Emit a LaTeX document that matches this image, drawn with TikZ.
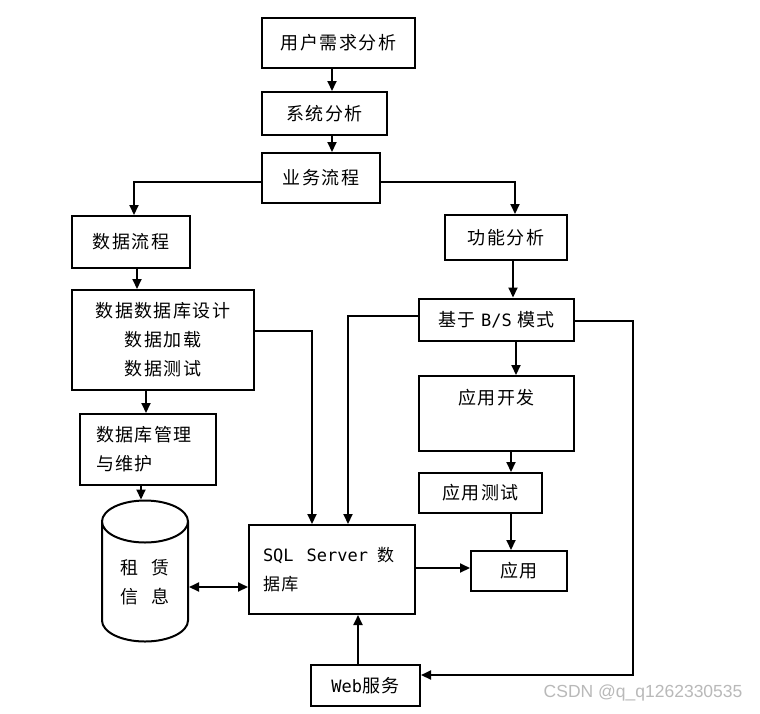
\documentclass[tikz,border=0pt]{standalone}
\usepackage{fontspec}
\setmainfont{Noto Sans CJK SC}[LetterSpace=8]
\setmonofont{DejaVu Sans Mono}
\newfontfamily\wmfont{Liberation Sans}
\usepackage{tikz}
\usetikzlibrary{arrows.meta,shapes.geometric}
\tikzset{>={Triangle[length=10pt,width=9pt]}}
\tikzset{
  box/.style={draw,line width=2pt,inner sep=0pt,align=center,
    font=\fontsize{18}{29}\selectfont},
  dbnode/.style={draw,line width=2pt,cylinder,shape border rotate=90,aspect=0.84,
    minimum width=86pt,minimum height=141pt,inner sep=0pt,align=center,
    font=\fontsize{18}{29}\selectfont},
  link/.style={line width=2pt,->}
}

\begin{document}
\begin{tikzpicture}[x=1pt,y=-1pt]
        \useasboundingbox[fill=white] (0,0) rectangle (760,713);

        \node[box,minimum width=153pt,minimum height=50pt] at (338.5,43)   (req) {用户需求分析};
        \node[box,minimum width=125pt,minimum height=43pt] at (324.5,113.5) (sys) {系统分析};
        \node[box,minimum width=118pt,minimum height=50pt] at (321,178)    (flow) {业务流程};

        \node[box,minimum width=118pt,minimum height=52pt] at (131,242)    (dataflow) {数据流程};
        \node[box,minimum width=182pt,minimum height=100pt] at (163,340)   (design) {数据数据库设计\\数据加载\\数据测试};
        \node[box,minimum width=136pt,minimum height=71pt,align=left,text width=104pt] at (148,449.5) (mgmt) {数据库管理\\与维护};
        \node[dbnode] at (145,582) (info) {租\hspace{14pt}赁\\信\hspace{14pt}息};

        \node[box,minimum width=166pt,minimum height=89pt,align=left,text width=138pt] at (332,569.5) (sql)
            {\ttfamily\fontsize{17}{29}\selectfont SQL\hspace{13pt}Server\hspace{9pt}\rmfamily 数\\据库};
        \node[box,minimum width=109pt,minimum height=41pt] at (365.5,685.5) (web) {{\ttfamily\fontsize{17}{29}\selectfont Web}服务};

        \node[box,minimum width=122pt,minimum height=45pt] at (506,237.5)  (func) {功能分析};
        \node[box,minimum width=155pt,minimum height=42pt] at (496.5,319.5) (bs) {基于 {\ttfamily\fontsize{17}{29}\selectfont B/S} 模式};
        \node[box,minimum width=155pt,minimum height=75pt,anchor=north,inner ysep=14pt,text height=14pt,text depth=33pt] at (496.5,375) (dev) {应用开发};
        \node[box,minimum width=123pt,minimum height=40pt] at (480.5,493)  (test) {应用测试};
        \node[box,minimum width=96pt,minimum height=40pt] at (519,571)     (app) {应用};

        \coordinate (bend) at (633,675);

        \draw[link] ([xshift=-6.5pt]req.south) -- ([xshift=-6.5pt]req.south |- sys.north);
        \draw[link] ([xshift=7.5pt]sys.south) -- ([xshift=7.5pt]sys.south |- flow.north);
        \draw[link] ([yshift=-4pt]flow.west) -| ([xshift=3pt]dataflow.north);
        \draw[link] ([yshift=-4pt]flow.east) -| ([xshift=9pt]func.north);

        \draw[link] ([xshift=6pt]dataflow.south) -- ([xshift=6pt]dataflow.south |- design.north);
        \draw[link] ([xshift=-2pt]mgmt.north |- design.south) -- ([xshift=-2pt]mgmt.north);
        \draw[link] ([xshift=-4pt]info.north |- mgmt.south) -- ([xshift=-4pt]info.north);
        \draw[link] ([yshift=9pt]design.east) -| ([xshift=-20pt]sql.north);
        \draw[line width=2pt,<->] ([yshift=-5pt]info.east) -- ([yshift=-5pt]info.east -| sql.west);

        \draw[link] ([xshift=7pt]func.south) -- ([xshift=7pt]func.south |- bs.north);
        \draw[link] ([yshift=4pt]bs.west) -| ([xshift=16pt]sql.north);
        \draw[link] ([yshift=-1.5pt]bs.east) -| (bend) |- ([yshift=10.5pt]web.east);
        \draw[link] ([xshift=19.5pt]bs.south) -- ([xshift=19.5pt]bs.south |- dev.north);
        \draw[link] ([xshift=14.5pt]dev.south) -- ([xshift=14.5pt]dev.south |- test.north);
        \draw[link] ([xshift=-8pt]app.north |- test.south) -- ([xshift=-8pt]app.north);
        \draw[link] ([yshift=1.5pt]sql.east) -- ([yshift=1.5pt]sql.east -| app.west);
        \draw[link] ([xshift=-7.5pt]web.north) -- ([xshift=-7.5pt]web.north |- sql.south);

        \node[anchor=east,text=gray!55,font=\wmfont\fontsize{17.5}{20}\selectfont] at (746,693) (mark) {CSDN @q\_q1262330535};
\end{tikzpicture}
\end{document}
